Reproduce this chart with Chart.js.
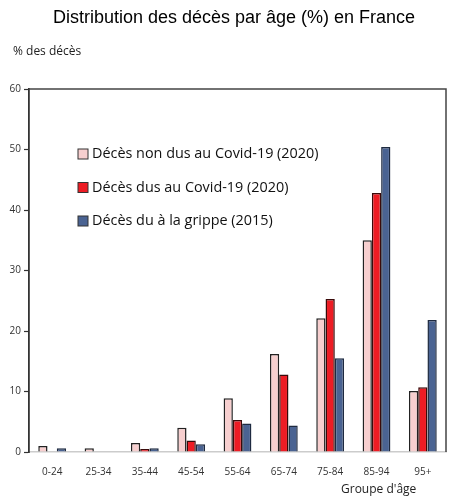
<!DOCTYPE html>
<html>
<head>
<meta charset="utf-8">
<script src="https://cdn.jsdelivr.net/npm/chart.js@4/dist/chart.umd.min.js"></script>
<style>
	html, body { margin: 0; padding: 0; background: #fff; }
	#wrap { width: 460px; height: 501px; position: relative; }
</style>
</head>
<body>
<div id="wrap"><canvas id="chart"></canvas></div>
<script>
const ageGroups = ["0-24", "25-34", "35-44", "45-54", "55-64", "65-74", "75-84", "85-94", "95+"];

const nonCovid2020 = [1.0, 0.6, 1.5, 4.0, 8.9, 16.2, 22.1, 35.0, 10.1];
const covid2020 = [0.1, 0.1, 0.5, 1.9, 5.3, 12.8, 25.3, 42.8, 10.7];
const grippe2015 = [0.6, 0.1, 0.6, 1.3, 4.7, 4.4, 15.5, 50.4, 21.8];

const seriesNames = ["Décès non dus au Covid-19 (2020)", "Décès dus au Covid-19 (2020)", "Décès du à la grippe (2015)"];

const yTicks = [0, 10, 20, 30, 40, 50, 60];

const labelFont = "'Open Sans', 'Noto Sans', sans-serif";

// legend inside the plot + the loose texts and the box
const extrasPlugin =
{
	id: "extras",
	afterDraw(chart)
	{
		const ctx = chart.ctx;
		const area = chart.chartArea;

		ctx.save();

		// box top and right
		ctx.strokeStyle = "#444";
		ctx.lineWidth = 1.5;
		ctx.beginPath();
		ctx.moveTo(area.left, area.top);
		ctx.lineTo(area.right, area.top);
		ctx.lineTo(area.right, area.bottom);
		ctx.stroke();

		ctx.fillStyle = "#000";
		ctx.textAlign = "center";
		ctx.textBaseline = "middle";
		ctx.font = "18px 'Liberation Sans', Arial, sans-serif";
		ctx.fillText("Distribution des décès par âge (%) en France", 234, 18);

		ctx.textAlign = "left";
		ctx.font = "12px " + labelFont;
		ctx.fillStyle = "#222";
		ctx.fillText("% des décès", 13, 52);

		ctx.fillText("Groupe d'âge", 341, 490);

		// legend
		ctx.font = "14.4px " + labelFont;
		chart.data.datasets.forEach((ds, i) =>
		{
			const y = 154 + i * 33.5;
			ctx.fillStyle = ds.backgroundColor;
			ctx.fillRect(78, y - 5, 10, 10);
			ctx.strokeStyle = "#333";
			ctx.lineWidth = 1;
			ctx.strokeRect(78, y - 5, 10, 10);
			ctx.fillStyle = "#111";
			ctx.fillText(ds.label, 92, y);
		});

		ctx.restore();
	}
};

new Chart(document.getElementById("chart"),
{
	type: "bar",
	data:
	{
		labels: ageGroups,
		datasets:
		[
			{ label: seriesNames[0], data: nonCovid2020, backgroundColor: "#f7cfcf", borderColor: "#222", borderWidth: 1.5 },
			{ label: seriesNames[1], data: covid2020, backgroundColor: "#ed1c24", borderColor: "#3a0a0a", borderWidth: 1.5 },
			{ label: seriesNames[2], data: grippe2015, backgroundColor: "#4a6392", borderColor: "#1e2a40", borderWidth: 1.5 }
		]
	},
	options:
	{
		responsive: true,
		maintainAspectRatio: false,
		animation: false,
		layout: { padding: { top: 89, right: 14, left: 0, bottom: 0 } },
		datasets: { bar: { categoryPercentage: 0.6, barPercentage: 1.0 } },
		plugins:
		{
			legend: { display: false },
			title: { display: false },
			tooltip: { enabled: false }
		},
		scales:
		{
			x:
			{
				grid: { display: false },
				border: { display: true, color: "#ccc", width: 1.5 },
				ticks: { color: "#333", font: { size: 10, family: labelFont }, padding: 6, maxRotation: 0 },
				afterFit: scale => { scale.height = 49; }
			},
			y:
			{
				min: 0,
				max: 60,
				afterBuildTicks: scale => { scale.ticks = yTicks.map(v => ({ value: v })); },
				grid: { drawOnChartArea: false, tickLength: 5, color: "#333", tickWidth: 1.2 },
				border: { display: true, color: "#333", width: 1.8 },
				ticks: { color: "#333", font: { size: 10, family: labelFont }, padding: 3 },
				afterFit: scale => { scale.width = 29; }
			}
		}
	},
	plugins: [ extrasPlugin ]
});
</script>
</body>
</html>
